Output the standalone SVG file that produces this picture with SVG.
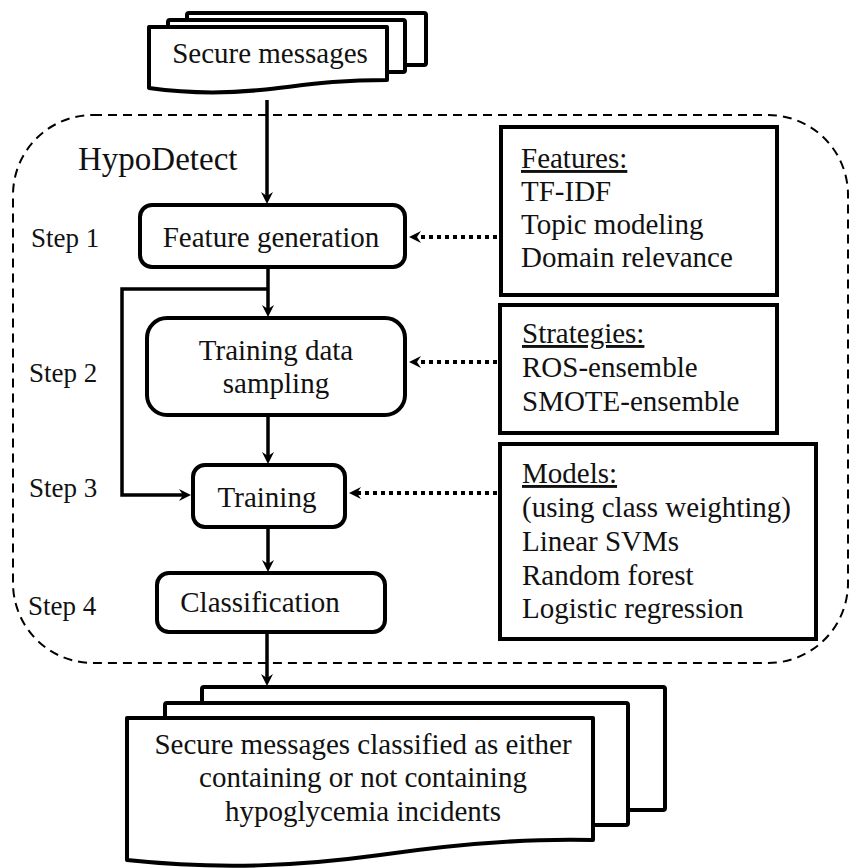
<svg xmlns="http://www.w3.org/2000/svg" width="849" height="868" viewBox="0 0 849 868" font-family="'Liberation Serif', 'DejaVu Serif', serif">
<defs>
<style>
text{font-family:"Liberation Serif","DejaVu Serif",serif;font-size:29px;fill:#111;}
.step{font-size:27px;}
.title{font-size:33px;}
.mid{text-anchor:middle;}
.box{fill:#fff;stroke:#000;stroke-width:4;}
.doc{fill:#fff;stroke:#000;stroke-width:4;stroke-linejoin:round;}
.solid{fill:none;stroke:#000;stroke-width:3.5;}
.dot{fill:none;stroke:#000;stroke-width:4;stroke-dasharray:4 4;}
.bound{fill:none;stroke:#000;stroke-width:2;stroke-dasharray:9 6;}
</style>
<marker id="ah" markerUnits="userSpaceOnUse" viewBox="0 0 12 12" markerWidth="12" markerHeight="12" refX="6" refY="6" orient="auto">
<path d="M0,0 L12,6 L0,12 L4,6 Z" fill="#000"/>
</marker>
</defs>
<rect width="849" height="868" fill="#fff"/>

<g id="boundary">
<rect class="bound" x="13" y="115" width="835" height="548" rx="80" ry="80"/>
<text class="title" x="78" y="170">HypoDetect</text>
</g>

<g id="input-docs">
<rect class="doc" x="187" y="13" width="239" height="52" rx="2"/>
<rect class="doc" x="168" y="20" width="237" height="52" rx="2"/>
<path class="doc" d="M149,27 H387 V80 C330,80 300,86 260,90 C220,94 185,93 149,88 Z"/>
<text class="mid" x="270" y="63">Secure messages</text>
</g>

<g id="steps">
<text class="step" x="31" y="247">Step 1</text>
<text class="step" x="29" y="382">Step 2</text>
<text class="step" x="29" y="497">Step 3</text>
<text class="step" x="28" y="615">Step 4</text>
</g>

<g id="feature-generation">
<rect class="box" x="140" y="205" width="265" height="62" rx="12"/>
<text class="mid" x="271" y="247">Feature generation</text>
</g>

<g id="training-data-sampling">
<rect class="box" x="147" y="318" width="258" height="97" rx="20"/>
<text class="mid" x="276" y="360">Training data</text>
<text class="mid" x="276" y="393">sampling</text>
</g>

<g id="training">
<rect class="box" x="193" y="465" width="152" height="62" rx="12"/>
<text class="mid" x="267" y="507">Training</text>
</g>

<g id="classification">
<rect class="box" x="157" y="573" width="228" height="59" rx="12"/>
<text class="mid" x="260" y="612">Classification</text>
</g>

<g id="features">
<rect class="box" x="501" y="127" width="276" height="168"/>
<text x="521" y="168" text-decoration="underline">Features:</text>
<text x="521" y="201">TF-IDF</text>
<text x="521" y="234">Topic modeling</text>
<text x="521" y="267">Domain relevance</text>
</g>

<g id="strategies">
<rect class="box" x="500" y="305" width="277" height="128"/>
<text x="522" y="343" text-decoration="underline">Strategies:</text>
<text x="522" y="377">ROS-ensemble</text>
<text x="522" y="411">SMOTE-ensemble</text>
</g>

<g id="models">
<rect class="box" x="500" y="444" width="316" height="195"/>
<text x="522" y="483" text-decoration="underline">Models:</text>
<text x="522" y="517">(using class weighting)</text>
<text x="522" y="551">Linear SVMs</text>
<text x="522" y="585">Random forest</text>
<text x="522" y="618">Logistic regression</text>
</g>

<g id="output-docs">
<rect class="doc" x="202" y="687" width="463" height="123" rx="2"/>
<rect class="doc" x="165" y="703" width="463" height="122" rx="2"/>
<path class="doc" d="M127,718 H593 V840 C520,838 450,845 380,855 C300,866 220,870 127,860 Z"/>
<text class="mid" x="363" y="754">Secure messages classified as either</text>
<text class="mid" x="363" y="787">containing or not containing</text>
<text class="mid" x="363" y="821">hypoglycemia incidents</text>
</g>

<g id="connectors">
<line class="solid" x1="267" y1="100" x2="267" y2="198" marker-end="url(#ah)"/>
<line class="solid" x1="268" y1="267" x2="268" y2="311" marker-end="url(#ah)"/>
<polyline class="solid" points="268,289 122,289 122,495 185,495" marker-end="url(#ah)"/>
<line class="solid" x1="268" y1="415" x2="268" y2="458" marker-end="url(#ah)"/>
<line class="solid" x1="268" y1="527" x2="268" y2="566" marker-end="url(#ah)"/>
<line class="solid" x1="267" y1="632" x2="267" y2="680" marker-end="url(#ah)"/>
<line class="dot" x1="497" y1="237" x2="415" y2="237" marker-end="url(#ah)"/>
<line class="dot" x1="497" y1="362" x2="415" y2="362" marker-end="url(#ah)"/>
<line class="dot" x1="497" y1="493" x2="355" y2="493" marker-end="url(#ah)"/>
</g>
</svg>
